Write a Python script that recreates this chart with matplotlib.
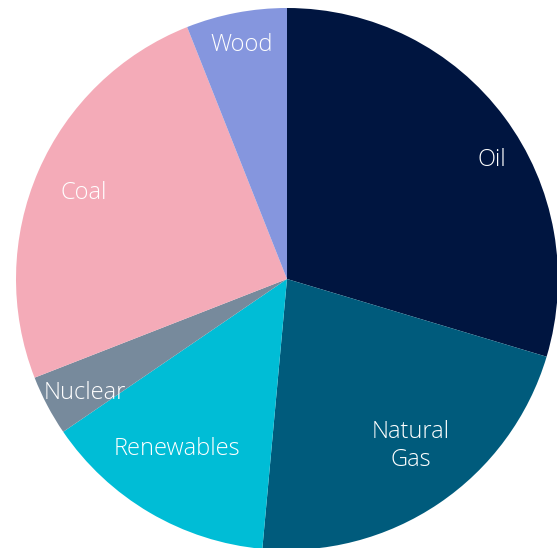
import matplotlib
matplotlib.use('Agg')
import matplotlib.pyplot as plt
import numpy as np

# energy mix shares (percent), clockwise from 12 o'clock
sources = ['Oil', 'Natural\nGas', 'Renewables', 'Nuclear', 'Coal', 'Wood']
shares = [29.6, 21.8, 14.0, 3.6, 24.9, 6.0]
colors = ['#001540', '#005b7c', '#00bdd6', '#778a9c', '#f4abb8', '#8596de']
label_dist = [0.88, 0.76, 0.74, 0.85, 0.82, 0.89]
label_shift = [-6, 3, -3, 1, 0, 0]  # degrees, small nudges

fig = plt.figure(figsize=(5.57, 5.48), dpi=100)
ax = fig.add_axes([0, 0, 1, 1])
wedges, _ = ax.pie(shares, colors=colors, startangle=90, counterclock=False,
                   radius=1.0, wedgeprops=dict(linewidth=0))

for w, lab, d, s in zip(wedges, sources, label_dist, label_shift):
    mid = np.deg2rad((w.theta1 + w.theta2) / 2 + s)
    ax.text(d*np.cos(mid), d*np.sin(mid) - 0.01, lab, color='white', fontsize=17,
            family='Open Sans', fontweight='light', ha='center', va='center',
            linespacing=1.2)

# center of pie at pixel (287,279), radius 271 px
ax.set_xlim(-287/271, (557-287)/271)
ax.set_ylim(-(548-279)/271, 279/271)
ax.set_aspect('auto')
ax.axis('off')

fig.savefig('out.png', dpi=100)
